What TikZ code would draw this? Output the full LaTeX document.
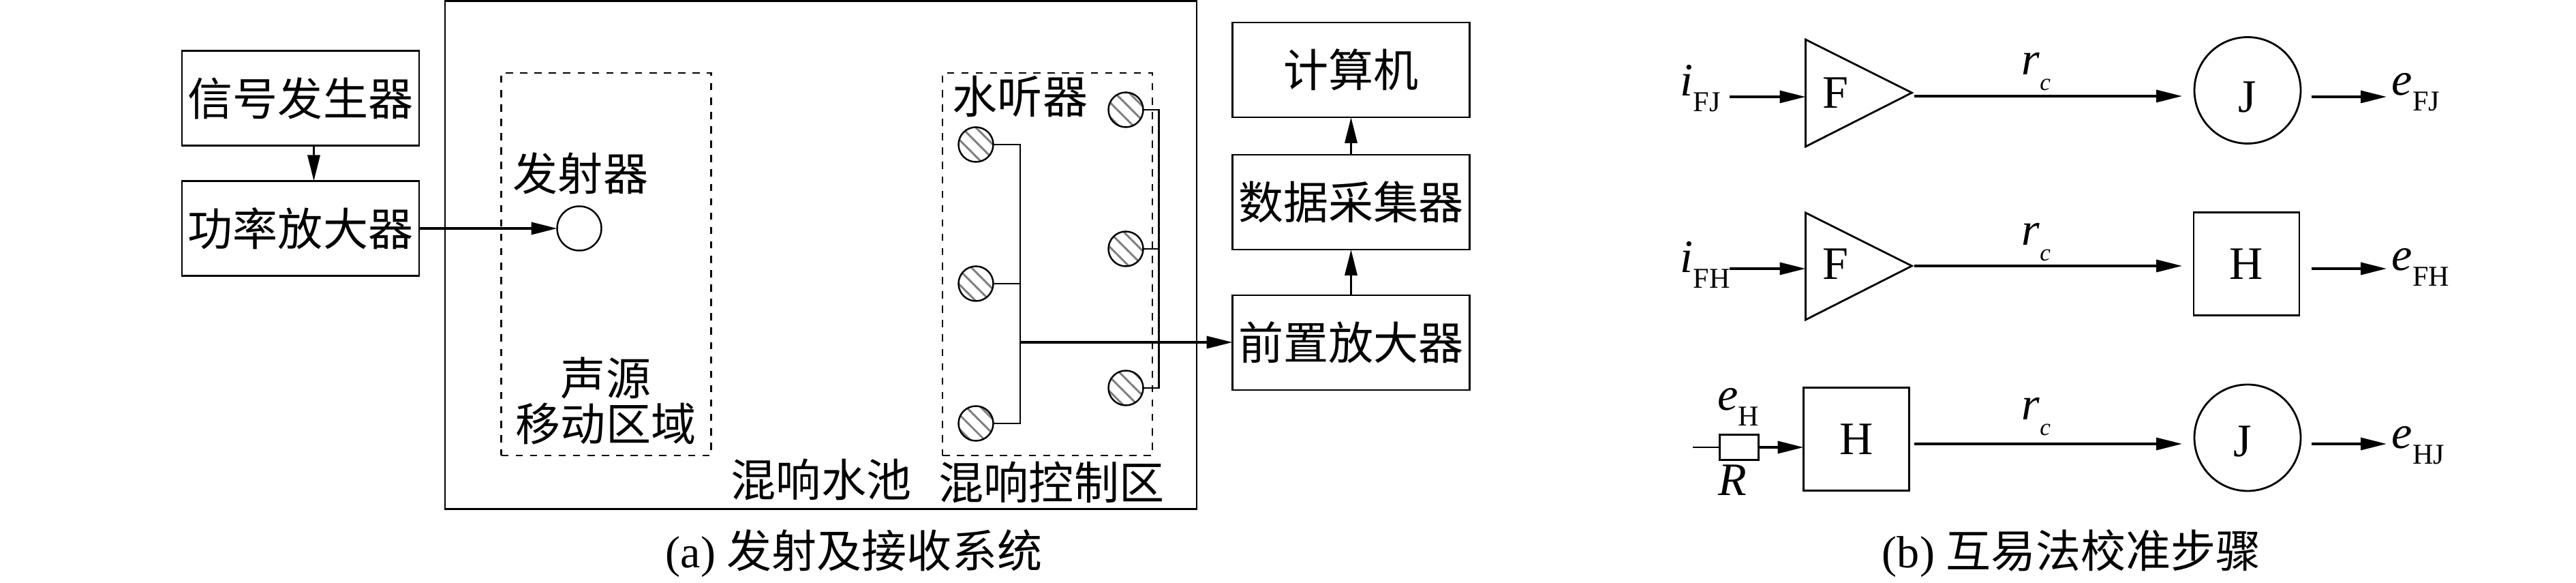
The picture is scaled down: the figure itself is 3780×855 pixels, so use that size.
\documentclass[tikz,border=0pt]{standalone}
\usepackage{fontspec}
\setmainfont{Liberation Serif}
\newfontfamily\cjk{Noto Sans CJK SC}
\usetikzlibrary{arrows.meta, positioning, patterns.meta}
\newcommand{\lowsub}[2]{\textit{#1}\raisebox{-2.3mm}{\fontsize{12}{12}\selectfont #2}}
\newcommand{\lowsubi}[2]{\textit{#1}\raisebox{-2.3mm}{\fontsize{10}{10}\selectfont\itshape #2}}

\begin{document}
\begin{tikzpicture}[
    x=0.1mm, y=-0.1mm,
    node distance=5.2mm,
    box/.style={rectangle, draw, line width=0.8pt, minimum width=34.8mm, minimum height=13.9mm, inner sep=0pt, outer sep=0pt, font=\cjk\fontsize{18.8}{22}\selectfont},
    zone/.style={rectangle, draw, dashed, line width=0.7pt, minimum width=30.8mm, minimum height=56.1mm, inner sep=0pt, outer sep=0pt},
    phone/.style={circle, draw, line width=0.7pt, minimum size=5.1mm, inner sep=0pt, outer sep=0pt, pattern={Lines[angle=-45, distance=1.5mm, line width=0.3mm]}, pattern color=gray},
    tag/.style={inner sep=0pt, font=\cjk\fontsize{18.8}{18.8}\selectfont, align=center},
    captext/.style={inner sep=0pt, font=\fontsize{18.8}{22}\selectfont},
    sym/.style={inner sep=0pt, font=\fontsize{19.4}{22}\selectfont},
    unit/.style={rectangle, draw, line width=0.8pt, minimum width=15.5mm, minimum height=15.1mm, inner sep=0pt, outer sep=0pt, font=\fontsize{19.4}{22}\selectfont},
    ball/.style={circle, draw, line width=0.8pt, minimum size=15.6mm, inner sep=0pt, outer sep=0pt},
    amp/.style={draw, line width=0.8pt},
    arrow/.style={-{Triangle[length=3.8mm, width=1.8mm]}, line width=0.95pt},
    wire/.style={line width=0.8pt},
]
    \useasboundingbox (0,0) rectangle (3780,855);

    % (a)
    \node[rectangle, draw, line width=0.8pt, minimum width=110.3mm, minimum height=74.5mm, inner sep=0pt, outer sep=0pt] (pool) at (1204.5,374) {};
    \node[zone] (srczone) at (889.5,387.5) {};
    \node[zone] (ctrlzone) at (1537,387.5) {};

    \node[box] (siggen) at (441,144) {信号发生器};
    \node[box, below=of siggen] (power) {功率放大器};
    \node[box] (computer) at (1982.5,102.5) {计算机};
    \node[box, below=5.5mm of computer] (daq) {数据采集器};
    \node[box, below=6.7mm of daq] (preamp) {前置放大器};

    \node[circle, draw, line width=0.7pt, minimum size=6.5mm, inner sep=0pt, outer sep=0pt] (emitter) at (850,335) {};
    \node[tag] (emitlabel) at (852,254) {发射器};
    \node[tag] (srclabel) at (889,588) {声源\\移动区域};
    \node[tag] (hydlabel) at (1497,142) {水听器};
    \node[tag] (poollabel) at (1205,703) {混响水池};
    \node[tag] (ctrllabel) at (1543,707) {混响控制区};
    \node[captext] (capa) at (1253,812) {(a) {\cjk 发射及接收系统}};

    \node[phone] (l1) at (1432,212) {};
    \node[phone] (l2) at (1432,416) {};
    \node[phone] (l3) at (1432,621) {};
    \node[phone] (r1) at (1652,161) {};
    \node[phone] (r2) at (1652,365) {};
    \node[phone] (r3) at (1652,569) {};
    \coordinate (ltop) at (1497,212);
    \coordinate (lbot) at (1497,621);
    \coordinate (ljoin) at (1497,502);
    \coordinate (rtop) at (1700.5,161);
    \coordinate (rmid) at (1700.5,365);
    \coordinate (rbot) at (1700.5,569);

    \draw[arrow] ([xshift=1.95mm]siggen.south) -- ([xshift=1.95mm]power.north);
    \draw[arrow] (power.east |- emitter.west) -- (emitter.west);
    \draw[arrow] (ljoin) -- (preamp.west |- ljoin);
    \draw[arrow] (preamp) -- (daq);
    \draw[arrow] (daq) -- (computer);
    \draw[wire] (l1) -- (ltop) -- (lbot) -- (l3);
    \draw[wire] (l2) -- (l2 -| ltop);
    \draw[wire] (r1) -- (rtop) -- (rbot) -- (r3);
    \draw[wire] (r2) -- (rmid);

    % (b)
    \coordinate (f1a) at (2649.5,58);
    \coordinate (f1b) at (2649.5,215);
    \coordinate (f1c) at (2805.5,136);
    \coordinate (f2a) at (2649.5,312);
    \coordinate (f2b) at (2649.5,469);
    \coordinate (f2c) at (2805.5,390);
    \draw[amp] (f1a) -- (f1c) -- (f1b) -- cycle;
    \draw[amp] (f2a) -- (f2c) -- (f2b) -- cycle;
    \node[sym] (f1) at (2693,136) {F};
    \node[sym] (f2) at (2693,387) {F};

    \node[ball] (j1) at (3298,132.5) {};
    \node[sym] (j1label) at (3298,143) {J};
    \node[unit] (h1) at (3296.5,387) {H};
    \node[unit] (h2) at (2724,644) {H};
    \node[ball] (j2) at (3298,642) {};
    \node[sym] (j2label) at (3291,648) {J};
    \node[rectangle, draw, line width=0.8pt, minimum width=5.7mm, minimum height=3.7mm, inner sep=0pt, outer sep=0pt] (res) at (2552,656) {};

    \node[sym, anchor=base west] (ifj) at (2465,141) {\lowsub{i}{FJ}};
    \node[sym, anchor=base west] (ifh) at (2465,400) {\lowsub{i}{FH}};
    \node[sym, anchor=base west] (efj) at (3509,140) {\lowsub{e}{FJ}};
    \node[sym, anchor=base west] (efh) at (3509,397) {\lowsub{e}{FH}};
    \node[sym, anchor=base west] (ehj) at (3509,658) {\lowsub{e}{HJ}};
    \node[sym, anchor=base west] (eh) at (2520,602) {\lowsub{e}{H}};
    \node[sym] (rlabel) at (2542,704) {\textit{R}};
    \node[sym, anchor=base west] (rc1) at (2966,110) {\lowsubi{r}{c}};
    \node[sym, anchor=base west] (rc2) at (2966,360) {\lowsubi{r}{c}};
    \node[sym, anchor=base west] (rc3) at (2966,616) {\lowsubi{r}{c}};
    \node[captext] (capb) at (3040,812) {(b) {\cjk 互易法校准步骤}};

    \coordinate (in1) at (2538,142);
    \coordinate (in2) at (2538,394);
    \coordinate (in3) at (2484,656);
    \coordinate (amp1) at (2649.5,142);
    \coordinate (amp2) at (2649.5,394);
    \coordinate (out1) at (3392,142);
    \coordinate (out2) at (3392,394);
    \coordinate (out3) at (3392,651);
    \coordinate (end1) at (3502,142);
    \coordinate (end2) at (3502,394);
    \coordinate (end3) at (3502,651);
    \coordinate (long1) at (2809,141);
    \coordinate (long2) at (2809,390);
    \coordinate (long3) at (2809,651);
    \coordinate (j1in) at (3202,141);
    \coordinate (h1in) at (3202,390);
    \coordinate (j2in) at (3202,651);

    \draw[arrow] (in1) -- (amp1);
    \draw[arrow] (in2) -- (amp2);
    \draw[wire] (in3) -- (res);
    \draw[arrow] (res) -- (h2.west |- res);
    \draw[arrow] (long1) -- (j1in);
    \draw[arrow] (long2) -- (h1in);
    \draw[arrow] (long3) -- (j2in);
    \draw[arrow] (out1) -- (end1);
    \draw[arrow] (out2) -- (end2);
    \draw[arrow] (out3) -- (end3);
\end{tikzpicture}
\end{document}
